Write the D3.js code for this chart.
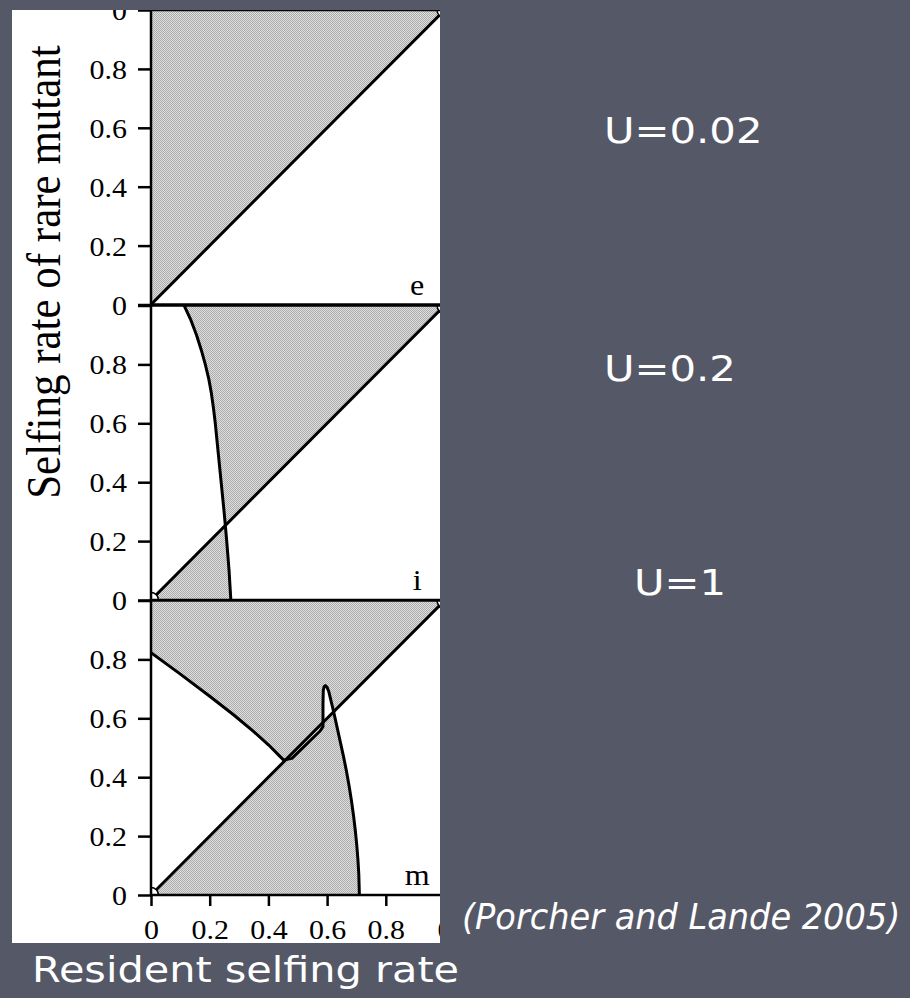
<!DOCTYPE html>
<html>
<head>
<meta charset="utf-8">
<script src="https://cdn.jsdelivr.net/npm/d3@7"></script>
<style>
  html, body { margin: 0; padding: 0; background: #555867; }
  svg { display: block; }
</style>
</head>
<body>
<script>
// ---- data -------------------------------------------------------------
const xTicks = [0, 0.2, 0.4, 0.6, 0.8, 1];
const yTicks = [0, 0.2, 0.4, 0.6, 0.8, 1];
const panelLetters = ["e", "i", "m"];
const mutationLabels = ["U=0.02", "U=0.2", "U=1"];
const yAxisTitle = "Selfing rate of rare mutant";
const xAxisTitle = "Resident selfing rate";
const citation = "(Porcher and Lande 2005)";

// invasion boundary (resident selfing, mutant selfing); panel e has none
const boundaryE = [];
const boundaryI = [[0.113, 1], [0.136, 0.95], [0.155, 0.9], [0.171, 0.85], [0.185, 0.8],
  [0.197, 0.75], [0.206, 0.7], [0.213, 0.65], [0.219, 0.6], [0.229, 0.5], [0.239, 0.4],
  [0.249, 0.3], [0.258, 0.2], [0.266, 0.1], [0.272, 0]];
const boundaryM = [[0, 0.823], [0.1, 0.75], [0.2, 0.675], [0.28, 0.613], [0.35, 0.555],
  [0.4, 0.51], [0.452, 0.458], [0.48, 0.464], [0.576, 0.557], [0.586, 0.572],
  [0.586, 0.65], [0.587, 0.695], [0.590, 0.708], [0.594, 0.711], [0.600, 0.705],
  [0.606, 0.69], [0.612, 0.665], [0.618, 0.64], [0.625, 0.61], [0.635, 0.565],
  [0.645, 0.52], [0.656, 0.47], [0.666, 0.42], [0.675, 0.37], [0.683, 0.32],
  [0.69, 0.27], [0.696, 0.22], [0.701, 0.17], [0.705, 0.12], [0.708, 0.07], [0.71, 0]];
const boundaries = [boundaryE, boundaryI, boundaryM];

// equilibrium markers (open circles)
const markersE = [[1, 1]];
const markersI = [[0, 0], [1, 1]];
const markersM = [[0, 0], [1, 1]];
const markers = [markersE, markersI, markersM];

// ---- layout -----------------------------------------------------------
const W = 910, H = 998;
const fig = { x0: 12, y0: 10, x1: 440, y1: 943 };
const plotLeft = 151, plotRight = 444.5;
const panelBottoms = [304.5, 600, 895];
const panelH = 294.5;
const serif = "'Liberation Serif', 'Times New Roman', serif";
const sans = "'DejaVu Sans', Verdana, sans-serif";
const tickStretch = 1.07;

const svg = d3.select("body").append("svg").attr("width", W).attr("height", H);
svg.append("rect").attr("width", W).attr("height", H).attr("fill", "#555867");

const defs = svg.append("defs");
const pat = defs.append("pattern").attr("id", "stipple")
  .attr("patternUnits", "userSpaceOnUse").attr("width", 2).attr("height", 2);
pat.append("rect").attr("width", 2).attr("height", 2).attr("fill", "#dedede");
pat.append("rect").attr("width", 1).attr("height", 1).attr("fill", "#acacac");
pat.append("rect").attr("x", 1).attr("y", 1).attr("width", 1).attr("height", 1).attr("fill", "#acacac");

defs.append("clipPath").attr("id", "figClip").append("rect")
  .attr("x", fig.x0).attr("y", fig.y0).attr("width", fig.x1 - fig.x0).attr("height", fig.y1 - fig.y0);

const figG = svg.append("g").attr("clip-path", "url(#figClip)");
figG.append("rect").attr("x", fig.x0).attr("y", fig.y0)
  .attr("width", fig.x1 - fig.x0).attr("height", fig.y1 - fig.y0).attr("fill", "#fff");

const x = d3.scaleLinear().domain([0, 1]).range([plotLeft, plotRight]);

// split a boundary where it crosses the diagonal y = x
function splitAtDiagonal(curve) {
  if (!curve.length) return [];
  const pieces = [[curve[0]]];
  for (let k = 1; k < curve.length; k++) {
    const a = curve[k - 1], b = curve[k];
    const da = a[1] - a[0], db = b[1] - b[0];
    if (da * db < 0) {
      const t = da / (da - db);
      const c = [a[0] + t * (b[0] - a[0]), a[1] + t * (b[1] - a[1])];
      pieces[pieces.length - 1].push(c);
      pieces.push([c]);
    }
    pieces[pieces.length - 1].push(b);
  }
  return pieces;
}

const tickFmt = d => d === 0 ? "0" : d.toFixed(1);

panelLetters.forEach((letter, i) => {
  const bottom = panelBottoms[i];
  const y = d3.scaleLinear().domain([0, 1]).range([bottom, bottom - panelH]);
  const line = d3.line().x(d => x(d[0])).y(d => y(d[1]));

  defs.append("clipPath").attr("id", "plot" + i).append("rect")
    .attr("x", x(0)).attr("y", y(1)).attr("width", x(1) - x(0)).attr("height", y(0) - y(1));

  const pg = figG.append("g");
  const area = pg.append("g").attr("clip-path", `url(#plot${i})`);

  // shaded regions: mutant invades
  const pieces = splitAtDiagonal(boundaries[i]);
  let upper, lower = null;
  if (!pieces.length) {
    upper = [[0, 1], [0, 0], [1, 1]];
  } else {
    upper = [[0, 1]];
    lower = [[0, 0]];
    pieces.forEach((p, k) => { (k % 2 === 0 ? upper : lower).push(...p); });
    upper.push([1, 1]);
  }
  [upper, lower].filter(Boolean).forEach(poly => {
    area.append("path").attr("d", line(poly) + "Z").attr("fill", "url(#stipple)");
  });

  // diagonal: mutant = resident
  area.append("path").attr("d", line([[0, 0], [1, 1]]))
    .attr("fill", "none").attr("stroke", "#000").attr("stroke-width", 3);

  if (boundaries[i].length) {
    area.append("path").attr("d", line(boundaries[i]))
      .attr("fill", "none").attr("stroke", "#000").attr("stroke-width", 3)
      .attr("stroke-linejoin", "round");
  }

  area.selectAll("circle.eq").data(markers[i]).join("circle")
    .attr("class", "eq")
    .attr("cx", d => x(d[0])).attr("cy", d => y(d[1])).attr("r", 7.5)
    .attr("fill", "#fff").attr("stroke", "#000").attr("stroke-width", 1.5);

  // frame
  pg.append("rect").attr("x", x(0)).attr("y", y(1))
    .attr("width", x(1) - x(0)).attr("height", y(0) - y(1))
    .attr("fill", "none").attr("stroke", "#000").attr("stroke-width", 2.5);

  // left axis; the top tick carries the zero of the stacked panel above
  const ax = pg.append("g").attr("transform", `translate(${x(0)},0)`)
    .call(d3.axisLeft(y).tickValues(yTicks).tickSize(13).tickSizeOuter(0)
      .tickFormat(d => d === 1 ? (i === 0 ? "0" : "") : tickFmt(d)));
  ax.select(".domain").remove();
  ax.selectAll(".tick line").attr("stroke", "#000").attr("stroke-width", 2.5);
  ax.selectAll(".tick text")
    .attr("x", 0).attr("dy", "0.34em")
    .attr("transform", `translate(-24,0) scale(${tickStretch},1)`)
    .attr("fill", "#000").attr("font-family", serif).attr("font-size", 28)
    .attr("text-anchor", "end");

  // panel letter
  pg.append("text").text(letter)
    .attr("transform", `translate(${x(0.907)},${y(0) - 10}) scale(${tickStretch},1)`)
    .attr("text-anchor", "middle").attr("font-family", serif).attr("font-size", 30).attr("fill", "#000");

  if (i === panelLetters.length - 1) {
    // bottom axis; the last tick carries the zero of the neighbouring panel
    const bx = pg.append("g").attr("transform", `translate(0,${y(0)})`)
      .call(d3.axisBottom(x).tickValues(xTicks).tickSize(11).tickSizeOuter(0)
        .tickFormat(d => d === 1 ? "0" : tickFmt(d)));
    bx.select(".domain").remove();
    bx.selectAll(".tick line").attr("stroke", "#000").attr("stroke-width", 2.5);
    bx.selectAll(".tick text")
      .attr("y", 0).attr("dy", 0)
      .attr("transform", `translate(0,44) scale(${tickStretch},1)`)
      .attr("fill", "#000").attr("font-family", serif).attr("font-size", 28)
      .attr("text-anchor", "middle");
  }
});

// y-axis title
figG.append("text").text(yAxisTitle)
  .attr("transform", `translate(60,272) scale(1.15,1) rotate(-90)`)
  .attr("text-anchor", "middle").attr("font-family", serif).attr("font-size", 43).attr("fill", "#000");

// slide text
const labelPos = [[604, 143], [604, 381], [634, 595]];
svg.selectAll("text.urate").data(mutationLabels).join("text")
  .attr("class", "urate")
  .text(d => d)
  .attr("transform", (d, k) => `translate(${labelPos[k][0]},${labelPos[k][1]}) scale(1.16,1)`)
  .attr("font-family", sans).attr("font-size", 36).attr("fill", "#fff");

svg.append("text").text(citation)
  .attr("transform", `translate(462,929) scale(0.96,1)`)
  .attr("font-family", sans).attr("font-style", "italic").attr("font-size", 35).attr("fill", "#fff");

svg.append("text").text(xAxisTitle)
  .attr("transform", `translate(32,982) scale(1.15,1)`)
  .attr("font-family", sans).attr("font-size", 36).attr("fill", "#fff");
</script>
</body>
</html>
